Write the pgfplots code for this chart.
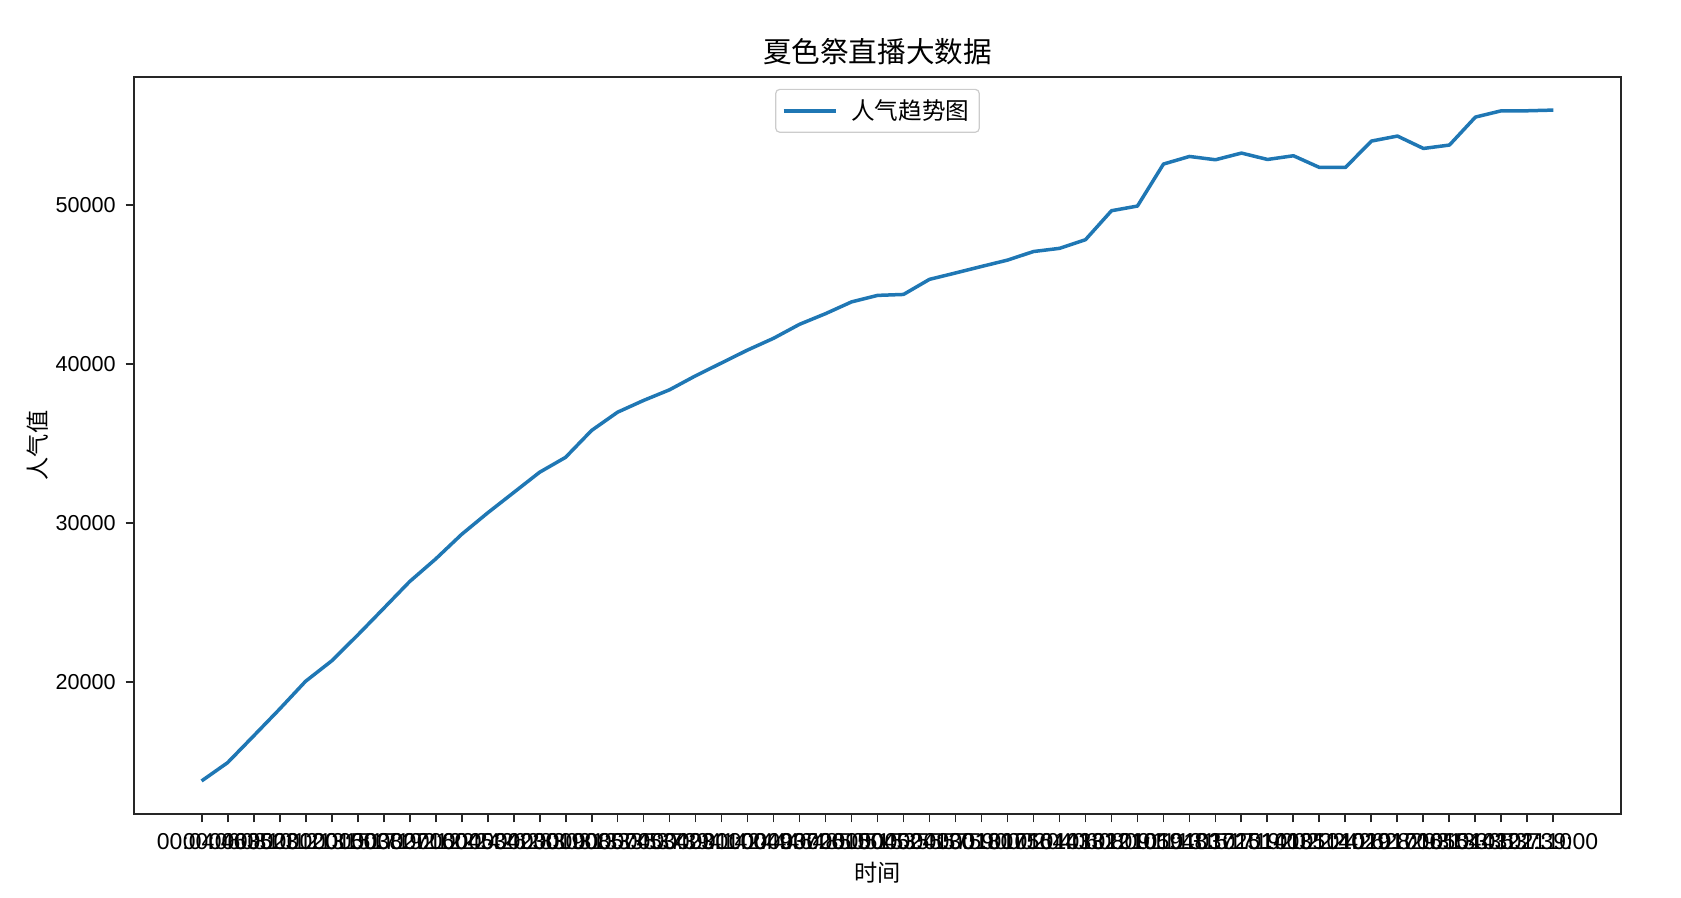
\documentclass[border=0pt]{standalone}
\usepackage{pgfplots}
\usepackage{pgfplotstable}
\pgfplotsset{compat=1.18}
\usepackage{fontspec}
\setmainfont{Liberation Sans}
\newfontfamily\cjk{Noto Sans CJK SC}
\definecolor{mplblue}{HTML}{1F77B4}

% popularity samples taken during the stream
\pgfplotstableread{
idx value label
0 13790 00:04:46
1 14940 00:06:35
2 16620 00:08:23
3 18310 00:10:12
4 20060 00:12:01
5 21340 00:13:50
6 22960 00:15:38
7 24640 00:17:27
8 26330 00:19:16
9 27750 00:21:04
10 29300 00:22:53
11 30650 00:24:42
12 31930 00:26:30
13 33210 00:28:19
14 34150 00:30:08
15 35840 00:31:57
16 36990 00:33:45
17 37730 00:35:34
18 38400 00:37:23
19 39280 00:39:11
20 40090 00:41:00
21 40900 00:42:49
22 41640 00:44:37
23 42520 00:46:26
24 43190 00:48:15
25 43930 00:50:04
26 44340 00:51:52
27 44400 00:53:41
28 45350 00:55:30
29 45750 00:57:18
30 46160 00:59:07
31 46560 01:00:56
32 47100 01:02:44
33 47300 01:04:33
34 47843 01:06:22
35 49667 01:08:10
36 49962 01:09:59
37 52604 01:11:48
38 53082 01:13:37
39 52874 01:15:25
40 53295 01:17:14
41 52893 01:19:03
42 53126 01:20:51
43 52390 01:22:40
44 52390 01:24:29
45 54050 01:26:17
46 54365 01:28:06
47 53585 01:29:55
48 53799 01:31:44
49 55560 01:33:32
50 55956 01:35:21
51 55956 01:37:10
52 55999 01:39:00
}\popdata

\begin{document}
\begin{tikzpicture}
\begin{axis}[
  scale only axis,
  width=743.5pt, height=368.5pt,
  xmin=-2.6, xmax=54.6,
  ymin=11711, ymax=58082,
  axis line style={black!85, line width=0.96pt},
  tick style={black!85, line width=0.96pt},
  tick align=outside,
  major tick length=4.2pt,
  xtick pos=left, ytick pos=left,
  xtick={0,...,52},
  xticklabels from table={\popdata}{label},
  ytick={20000,30000,40000,50000},
  scaled y ticks=false,
  /pgf/number format/.cd, 1000 sep={}, assume math mode=true, /pgfplots/.cd,
  every tick label/.append style={inner sep=0pt},
  xticklabel style={font=\fontsize{11.5}{13}\selectfont, anchor=north, yshift=-5.2pt},
  yticklabel style={font=\fontsize{10.8}{13}\selectfont, anchor=east, xshift=-4.8pt},
  title={\cjk 夏色祭直播大数据},
  title style={at={(axis description cs:0.5,1.0347)}, anchor=center, yshift=-6pt,
    font=\fontsize{14.3}{17}\selectfont, inner sep=0pt},
  xlabel={\cjk 时间},
  xlabel style={at={(axis description cs:0.5,-0.0801)}, anchor=center,
    font=\fontsize{11.6}{14}\selectfont, inner sep=0pt},
  ylabel={\cjk 人气值},
  ylabel style={at={(axis description cs:-0.0649,0.5)}, anchor=center, rotate=0,
    font=\fontsize{11.6}{14}\selectfont, inner sep=0pt},
  legend style={at={(axis description cs:0.5,0.984)}, anchor=north,
    draw=black!20, line width=0.6pt, rounded corners=2pt,
    font=\cjk\fontsize{11.8}{14}\selectfont,
    inner xsep=3pt, inner ysep=3pt,
    /tikz/every odd column/.append style={column sep=5pt}},
  legend cell align=left,
  legend image code/.code={\draw[#1, line width=1.75pt] (0pt,0pt) -- (26pt,0pt);},
]
\addplot[mplblue, line width=1.75pt, line join=round] table[x=idx, y=value] {\popdata};
\addlegendentry{人气趋势图}
\end{axis}
\pgfresetboundingbox
\path ([xshift=-67pt,yshift=-42pt]current axis.south west) rectangle ([xshift=30pt,yshift=38.5pt]current axis.north east);
\end{tikzpicture}
\end{document}
